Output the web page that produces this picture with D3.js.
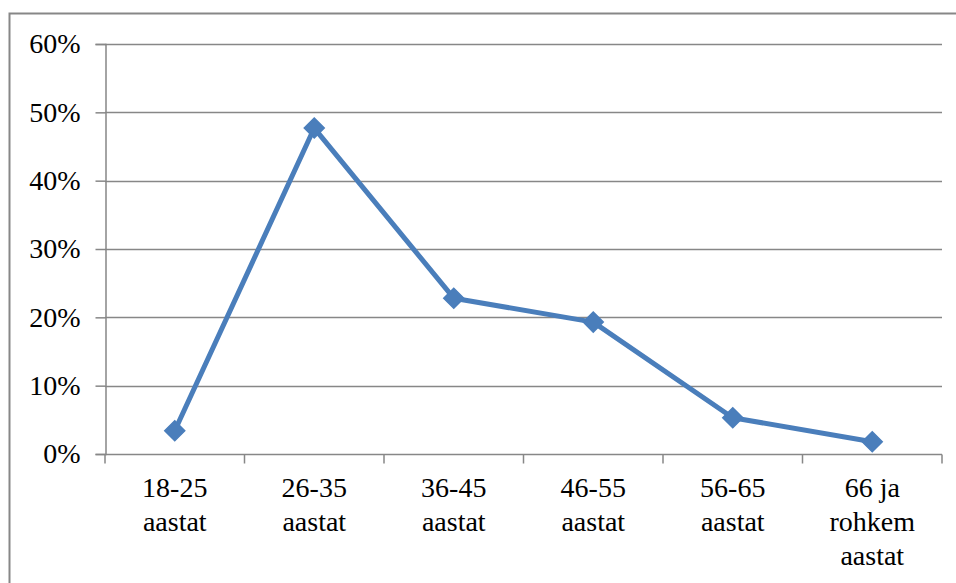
<!DOCTYPE html>
<html>
<head>
<meta charset="utf-8">
<script src="https://cdn.jsdelivr.net/npm/d3@7"></script>
<style>
  html, body { margin: 0; padding: 0; background: #fff; }
  svg { display: block; }
  svg text.lbl { font-family: 'Times New Roman', 'Liberation Serif', Tinos, serif !important; font-size: 28px; fill: #000; }
</style>
</head>
<body>
<script>
// Age groups (each label split across lines)
const categories = [
  ["18-25", "aastat"],
  ["26-35", "aastat"],
  ["36-45", "aastat"],
  ["46-55", "aastat"],
  ["56-65", "aastat"],
  ["66 ja", "rohkem", "aastat"]
];
// Share of respondents per age group, percent
const shares = [3.4, 47.7, 22.8, 19.3, 5.3, 1.8];
// Y axis ticks, percent
const yTicks = [0, 10, 20, 30, 40, 50, 60];

const W = 956, H = 583;
const plot = { left: 105, right: 942, top: 44, bottom: 454 };
const gridColor = "#878787";
const lineColor = "#4a7ebb";

const svg = d3.select("body").append("svg")
  .attr("width", W).attr("height", H);

// Chart frame
svg.append("rect")
  .attr("x", 9.5).attr("y", 13.5)
  .attr("width", 960).attr("height", 600)
  .attr("fill", "none").attr("stroke", gridColor).attr("stroke-width", 2);

const x = d3.scaleBand()
  .domain(categories.map((c, i) => i))
  .range([plot.left, plot.right])
  .paddingInner(0).paddingOuter(0);

const y = d3.scaleLinear()
  .domain([0, 60])
  .range([plot.bottom, plot.top]);

// Horizontal gridlines
svg.append("g")
  .selectAll("line")
  .data(yTicks.filter(t => t > 0))
  .join("line")
  .attr("x1", plot.left).attr("x2", plot.right)
  .attr("y1", d => Math.round(y(d)) + 0.5).attr("y2", d => Math.round(y(d)) + 0.5)
  .attr("stroke", gridColor).attr("stroke-width", 1.5);

// Y axis
const yAxis = svg.append("g")
  .attr("transform", `translate(${plot.left + 0.5},0)`)
  .call(d3.axisLeft(y).tickValues(yTicks).tickFormat(d => d + "%").tickSize(10).tickPadding(15))
  .attr("font-family", "Times New Roman").attr("font-size", 28);
yAxis.select(".domain").attr("stroke", gridColor).attr("stroke-width", 1.5);
yAxis.selectAll(".tick line").attr("stroke", gridColor).attr("stroke-width", 1.5);
yAxis.selectAll(".tick text").attr("class", "lbl").attr("fill", "#000");

// X axis with tick marks at category boundaries
const xAxisG = svg.append("g")
  .attr("transform", `translate(0,${plot.bottom + 0.5})`);
xAxisG.append("line")
  .attr("x1", plot.left).attr("x2", plot.right)
  .attr("stroke", gridColor).attr("stroke-width", 1.5);
const bounds = categories.map((c, i) => x(i)).concat([x(categories.length - 1) + x.bandwidth()]);
xAxisG.selectAll("line.tk")
  .data(bounds)
  .join("line")
  .attr("class", "tk")
  .attr("x1", d => d).attr("x2", d => d)
  .attr("y1", 0).attr("y2", 9)
  .attr("stroke", gridColor).attr("stroke-width", 1.5);

// Category labels, one text element per line
const cx = i => x(i) + x.bandwidth() / 2;
const labelLines = categories.flatMap((lines, i) => lines.map((t, j) => ({ i, j, t })));
svg.append("g")
  .attr("font-family", "Times New Roman")
  .selectAll("text")
  .data(labelLines)
  .join("text")
  .attr("class", "lbl")
  .attr("text-anchor", "middle")
  .attr("x", d => cx(d.i))
  .attr("y", d => 497 + d.j * 34)
  .text(d => d.t);

// Series line
svg.append("path")
  .datum(shares)
  .attr("fill", "none")
  .attr("stroke", lineColor)
  .attr("stroke-width", 5)
  .attr("stroke-linejoin", "round")
  .attr("d", d3.line().x((d, i) => cx(i)).y(d => y(d)));

// Diamond markers
svg.append("g")
  .selectAll("path")
  .data(shares)
  .join("path")
  .attr("transform", (d, i) => `translate(${cx(i)},${y(d)})`)
  .attr("d", "M0,-10L10,0L0,10L-10,0Z")
  .attr("fill", lineColor)
  .attr("stroke", lineColor)
  .attr("stroke-width", 1.5);
</script>
</body>
</html>
